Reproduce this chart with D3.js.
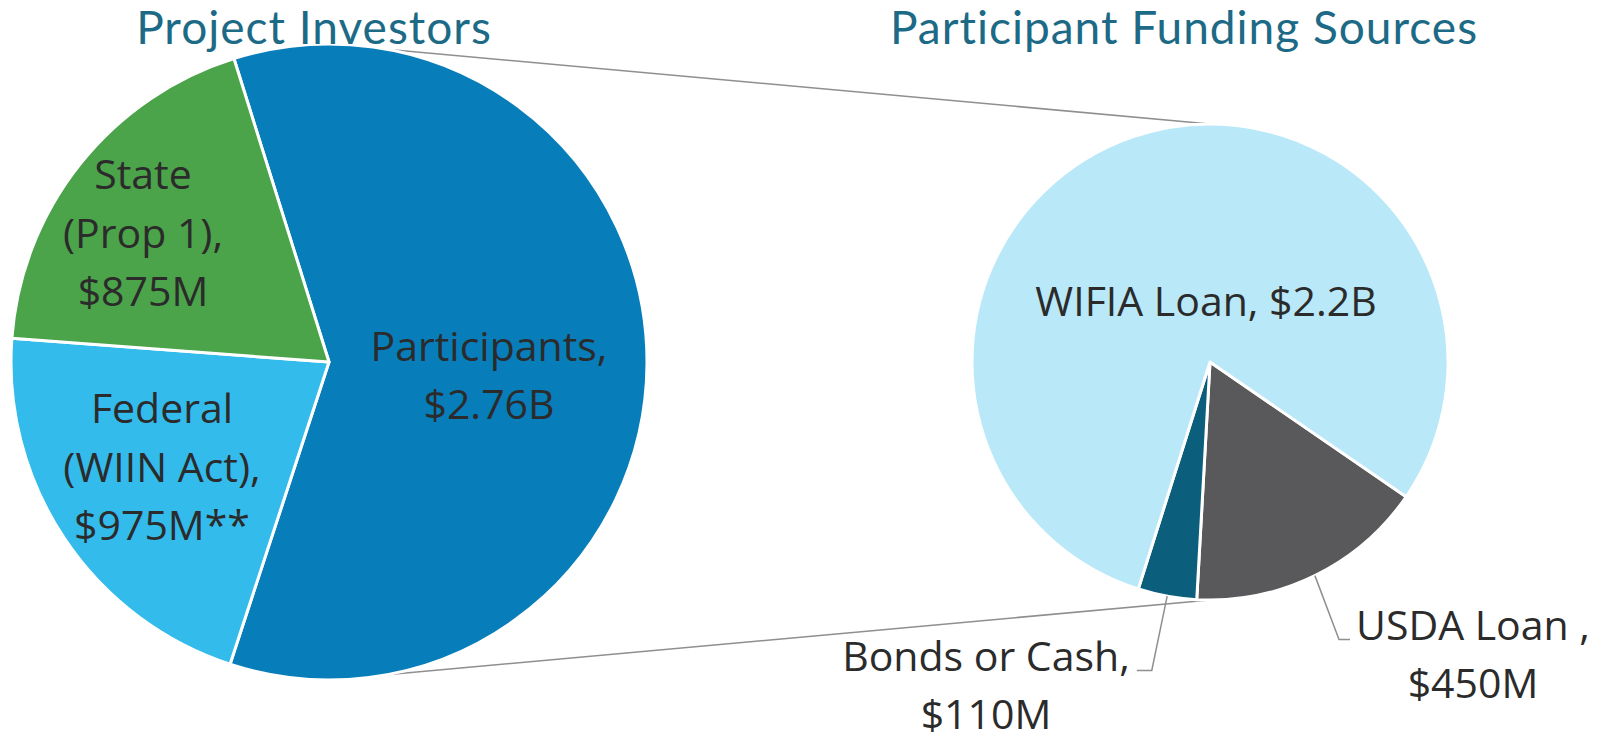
<!DOCTYPE html>
<html>
<head>
<meta charset="utf-8">
<script src="https://cdn.jsdelivr.net/npm/d3@7"></script>
<style>
  body { margin: 0; background: #fff; }
  svg { display: block; }
</style>
</head>
<body>
<svg id="chart" width="1604" height="740"></svg>
<script>
// left pie: who pays for the project ($M)
let investorNames = ["Participants", "Federal (WIIN Act)", "State (Prop 1)"];
let investorValues = [2760, 975, 875];
let investorLines = [["Participants,", "$2.76B"], ["Federal", "(WIIN Act),", "$975M**"], ["State", "(Prop 1),", "$875M"]];

// right pie: how the participants pay ($M)
let sourceNames = ["USDA Loan", "Bonds or Cash", "WIFIA Loan"];
let sourceValues = [450, 110, 2200];
let sourceLines = [["USDA Loan ,", "$450M"], ["Bonds or Cash,", "$110M"], ["WIFIA Loan, $2.2B"]];

let titles = ["Project Investors", "Participant Funding Sources"];

let width = 1604, height = 740;
let svg = d3.select("#chart");

let titleColor = "#1c6a86";
let textColor = "#2b2b2b";
let lineColor = "#8f8f8f";
let labelFont = "'Open Sans', 'Noto Sans', sans-serif";
let labelSize = 41;
let lineGap = 58.5;

let leftPie = {cx: 329, cy: 362, r: 318, start: -17.4};
let rightPie = {cx: 1210, cy: 362, r: 238, start: 124.5};

let investorColors = ["#077dba", "#33bbec", "#4ba34a"];
let sourceColors = ["#59595b", "#0b5e7c", "#b9e8f8"];

// label block centres, relative to each pie centre
let investorLabelPos = [[160, 13], [-167, 105], [-186, -129]];
let sourceLabelPos = [[263, 292], [-224, 323], [-4, -61]];
let sourceOutside = [true, true, false];

let rad = Math.PI / 180;

// connector lines sit behind the pies
svg.append("line")
    .attr("x1", leftPie.cx).attr("y1", leftPie.cy - leftPie.r)
    .attr("x2", rightPie.cx).attr("y2", rightPie.cy - rightPie.r)
    .attr("stroke", lineColor)
    .attr("stroke-width", 1.6);
svg.append("line")
    .attr("x1", leftPie.cx).attr("y1", leftPie.cy + leftPie.r)
    .attr("x2", rightPie.cx).attr("y2", rightPie.cy + rightPie.r)
    .attr("stroke", lineColor)
    .attr("stroke-width", 1.6);

function drawPie(pieInfo, values, colors) {
    let pie = d3.pie()
        .sort(null)
        .startAngle(pieInfo.start * rad)
        .endAngle((pieInfo.start + 360) * rad);
    let arc = d3.arc()
        .innerRadius(0)
        .outerRadius(pieInfo.r);
    let arcs = pie(values);
    svg.append("g")
        .attr("transform", "translate(" + pieInfo.cx + "," + pieInfo.cy + ")")
        .selectAll("path")
        .data(arcs)
        .join("path")
        .attr("d", arc)
        .attr("fill", function(d, i) { return colors[i]; })
        .attr("stroke", "#fff")
        .attr("stroke-width", 3)
        .attr("stroke-linejoin", "round");
    return arcs;
}

function drawLabel(pieInfo, lines, pos) {
    let x = pieInfo.cx + pos[0];
    // centre of the block of lines, cap height ~0.72em
    let yFirst = pieInfo.cy + pos[1] - (lines.length - 1) * lineGap / 2 + labelSize * 0.36;
    let text = svg.append("text")
        .attr("x", x)
        .attr("y", yFirst)
        .style("font-family", labelFont)
        .style("font-size", labelSize + "px")
        .style("fill", textColor)
        .style("text-anchor", "middle");
    lines.forEach(function(line, i) {
        text.append("tspan")
            .attr("x", x)
            .attr("y", yFirst + i * lineGap)
            .text(line);
    });
    return {node: text.node(), baseline: yFirst};
}

let investorArcs = drawPie(leftPie, investorValues, investorColors);
let sourceArcs = drawPie(rightPie, sourceValues, sourceColors);

investorLines.forEach(function(lines, i) {
    drawLabel(leftPie, lines, investorLabelPos[i]);
});

sourceLines.forEach(function(lines, i) {
    let label = drawLabel(rightPie, lines, sourceLabelPos[i]);
    if (!sourceOutside[i]) return;
    // leader line from the slice edge to the first line of the label
    let a = sourceArcs[i];
    let mid = (a.startAngle + a.endAngle) / 2;
    let sx = rightPie.cx + Math.sin(mid) * rightPie.r;
    let sy = rightPie.cy - Math.cos(mid) * rightPie.r;
    let firstLine = d3.select(label.node).select("tspan").node();
    let box = firstLine.getBBox();
    let onRight = sx < box.x;
    let edge = onRight ? box.x - 6 : box.x + box.width + 7;
    let elbow = onRight ? edge - 11 : edge + 15;
    svg.append("polyline")
        .attr("points", [[sx, sy], [elbow, label.baseline], [edge, label.baseline]].join(" "))
        .attr("fill", "none")
        .attr("stroke", lineColor)
        .attr("stroke-width", 1.5);
});

// titles
let titleX = [314, 1184];
titles.forEach(function(t, i) {
    svg.append("text")
        .attr("x", titleX[i])
        .attr("y", 44)
        .text(t)
        .style("font-family", "Lato, 'Open Sans', sans-serif")
        .style("font-size", "46px")
        .style("letter-spacing", "1px")
        .style("fill", titleColor)
        .style("text-anchor", "middle");
});
</script>
</body>
</html>
